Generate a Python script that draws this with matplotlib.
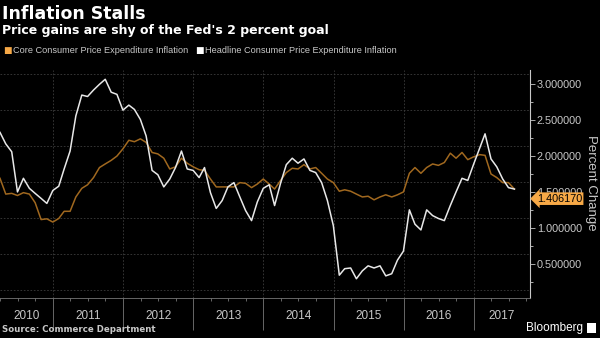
import matplotlib.pyplot as plt
import matplotlib.transforms as mtransforms
import pandas as pd

# monthly y/y percent change, Mar 2010 .. Jul 2017
core = [1.69, 1.47, 1.48, 1.45, 1.49, 1.47, 1.35, 1.115, 1.125, 1.08,
        1.13, 1.23, 1.23, 1.43, 1.55, 1.60, 1.70, 1.84, 1.89, 1.94,
        2.00, 2.10, 2.22, 2.20, 2.24, 2.19, 2.05, 2.03, 1.97, 1.82,
        1.85, 1.97, 1.90, 1.85, 1.81, 1.80, 1.68, 1.57, 1.57, 1.57,
        1.57, 1.63, 1.62, 1.56, 1.61, 1.68, 1.61, 1.54, 1.66, 1.77,
        1.83, 1.82, 1.88, 1.82, 1.84, 1.76, 1.68, 1.63, 1.51, 1.53,
        1.51, 1.47, 1.43, 1.44, 1.39, 1.43, 1.46, 1.43, 1.46, 1.50,
        1.76, 1.84, 1.76, 1.84, 1.89, 1.87, 1.91, 2.04, 1.97, 2.05,
        1.95, 1.99, 2.02, 2.01, 1.75, 1.70, 1.63, 1.63, 1.54]
headline = [2.33, 2.17, 2.06, 1.50, 1.69, 1.55, 1.48, 1.41, 1.34, 1.52,
            1.58, 1.82, 2.07, 2.56, 2.85, 2.83, 2.92, 3.00, 3.07, 2.89,
            2.86, 2.64, 2.71, 2.65, 2.51, 2.28, 1.80, 1.74, 1.57, 1.68,
            1.84, 2.07, 1.82, 1.80, 1.70, 1.84, 1.49, 1.27, 1.38, 1.57,
            1.63, 1.43, 1.24, 1.10, 1.36, 1.55, 1.60, 1.31, 1.62, 1.88,
            1.97, 1.90, 1.96, 1.80, 1.77, 1.63, 1.38, 1.03, 0.34, 0.43,
            0.44, 0.29, 0.40, 0.47, 0.44, 0.47, 0.33, 0.36, 0.55, 0.675,
            1.25, 1.05, 0.97, 1.25, 1.17, 1.13, 1.10, 1.31, 1.50, 1.69,
            1.66, 1.89, 2.11, 2.31, 1.96, 1.85, 1.68, 1.56, 1.54]
months = pd.date_range("2010-03-31", periods=len(core), freq="ME")
years = [2010, 2011, 2012, 2013, 2014, 2015, 2016, 2017]
yticks = [0.5, 1.0, 1.5, 2.0, 2.5, 3.0]
last_value = 1.406170

core_color = "#a0681f"
head_color = "#e8e8e8"
tag_color = "#f7a947"
grey = "#c8c8c8"

fig = plt.figure(figsize=(6, 3.38), dpi=100, facecolor="black")
ax = fig.add_axes([0, 0.118, 0.8833, 0.675])
ax.set_facecolor("black")

x0 = pd.Timestamp("2010-03-31")
x1 = pd.Timestamp("2017-10-20")
ax.set_xlim(x0, x1)
ax.set_ylim(0.02, 3.2)

# dotted grid (sits between the labelled values like in the original)
for g in [0.14, 0.64, 1.14, 1.64, 2.14, 2.64, 3.14]:
    ax.axhline(g, color="#3c3c3c", lw=0.6, ls=(0, (2, 2)), zorder=0)
for y in years[1:]:
    ax.axvline(pd.Timestamp(f"{y}-01-01"), color="#3c3c3c", lw=0.6, ls=(0, (2, 2)), zorder=0)

ax.plot(months, core, color=core_color, lw=1.1)
ax.plot(months, headline, color=head_color, lw=1.1)

# right axis
ax.yaxis.tick_right()
ax.set_yticks(yticks)
ax.set_yticklabels([f"{v:.6f}" for v in yticks])
ax.set_yticks([0.25, 0.75, 1.25, 1.75, 2.25, 2.75], minor=True)
ax.tick_params(axis="y", which="both", colors=grey, direction="out", labelsize=7.8, pad=1.5)
ax.tick_params(axis="y", which="major", length=3.5, width=0.6)
ax.tick_params(axis="y", which="minor", length=2.5, width=0.6)
for lab in ax.get_yticklabels():
    lab.set_family("Liberation Sans")

# bottom axis: long year separators, short quarterly ticks
ax.set_xticks([pd.Timestamp(f"{y}-01-01") for y in years[1:]])
ax.set_xticklabels([])
qticks = [pd.Timestamp(f"{y}-{m:02d}-01") for y in years for m in (4, 7, 10)]
ax.set_xticks([q for q in qticks if x0 < q < x1], minor=True)
ax.tick_params(axis="x", which="major", length=23, width=0.6, color="#777777")
ax.tick_params(axis="x", which="minor", length=2.5, width=0.6, color="#777777")

trans = mtransforms.blended_transform_factory(ax.transData, ax.transAxes)
for y in years:
    a = max(pd.Timestamp(f"{y}-01-01"), x0)
    b = min(pd.Timestamp(f"{y + 1}-01-01"), x1)
    ax.text(a + (b - a) / 2, -0.08, str(y), transform=trans, ha="center", va="center",
            color=grey, fontsize=8.5, family="Liberation Sans")

for s in ("top", "left"):
    ax.spines[s].set_visible(False)
ax.spines["right"].set_color(grey)
ax.spines["right"].set_linewidth(0.8)
ax.spines["bottom"].set_color("#777777")
ax.spines["bottom"].set_linewidth(0.6)

# last value tag (covers the 1.5 label, as in the original)
tag = mtransforms.blended_transform_factory(ax.transAxes, ax.transData)
ax.text(1.013, last_value, f"{last_value:.6f}", transform=tag, ha="left", va="center",
        fontsize=7.8, family="Liberation Sans", color="black", clip_on=False, zorder=5,
        bbox=dict(boxstyle="larrow,pad=0.12", fc=tag_color, ec="none"))

fig.text(0.985, 0.46, "Percent Change", rotation=270, ha="center", va="center",
         color=grey, fontsize=9.5, family="Liberation Sans")

# titles and legend
fig.text(0.004, 0.985, "Inflation Stalls", ha="left", va="top", color="white",
         fontsize=12.5, weight="bold")
fig.text(0.004, 0.911, "Price gains are shy of the Fed's 2 percent goal", ha="left",
         va="center", color="white", fontsize=9, weight="bold")
fig.text(0.006, 0.852, "■", color=tag_color, fontsize=6.5, va="center")
fig.text(0.0217, 0.852, "Core Consumer Price Expenditure Inflation", color=grey,
         fontsize=6.6, va="center", family="Liberation Sans")
fig.text(0.326, 0.852, "■", color="white", fontsize=6.5, va="center")
fig.text(0.341, 0.852, "Headline Consumer Price Expenditure Inflation", color=grey,
         fontsize=6.6, va="center", family="Liberation Sans")

fig.text(0.004, 0.024, "Source: Commerce Department", color=grey, fontsize=6.2,
         weight="bold", va="center")
fig.text(0.972, 0.03, "Bloomberg", color="white", fontsize=8.5, ha="right", va="center",
         family="Liberation Sans")
fig.patches.append(plt.Rectangle((0.979, 0.015), 0.014, 0.03, transform=fig.transFigure,
                                 fc="white", ec="none"))

fig.savefig("out.png", dpi=100, facecolor="black")
